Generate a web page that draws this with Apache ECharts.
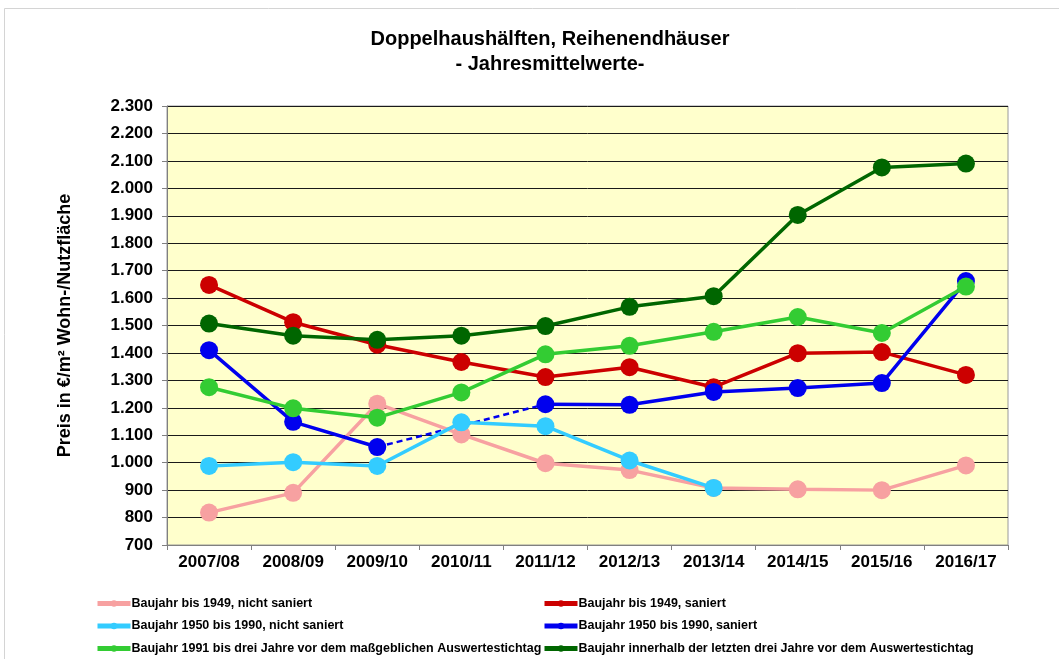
<!DOCTYPE html>
<html>
<head>
<meta charset="utf-8">
<script src="https://cdn.jsdelivr.net/npm/echarts@6/dist/echarts.min.js"></script>
<style>
  html, body { margin: 0; padding: 0; background: #fff; }
  #chart { width: 1059px; height: 659px; }
</style>
</head>
<body>
<div id="chart"></div>
<script>
// categories (Auswertejahre)
var years = ["2007/08", "2008/09", "2009/10", "2010/11", "2011/12",
             "2012/13", "2013/14", "2014/15", "2015/16", "2016/17"];

// Preis in €/m² Wohn-/Nutzfläche
var bis1949Nicht   = [818, 890, 1215, 1103, 998, 973, 908, 903, 900, 990];
var bis1949Saniert = [1648, 1512, 1430, 1367, 1312, 1348, 1275, 1399, 1403, 1320];
var b1950Nicht     = [988, 1002, 988, 1147, 1133, 1008, 908, null, null, null];
var b1950Saniert   = [1410, 1149, 1057, null, 1213, 1211, 1258, 1272, 1290, 1662];
var b1991          = [1275, 1198, 1164, 1256, 1395, 1426, 1477, 1531, 1473, 1642];
var innerhalb3     = [1507, 1463, 1448, 1463, 1498, 1568, 1607, 1903, 2076, 2090];

var names = [
  "Baujahr bis 1949, nicht saniert",
  "Baujahr bis 1949, saniert",
  "Baujahr 1950 bis 1990, nicht saniert",
  "Baujahr 1950 bis 1990, saniert",
  "Baujahr 1991 bis drei Jahre vor dem maßgeblichen Auswertestichtag",
  "Baujahr innerhalb der letzten drei Jahre vor dem Auswertestichtag"
];
var colors = ["#F7A1A1", "#CC0000", "#33CCFF", "#0000EE", "#33CC33", "#006600"];
var dataSets = [bis1949Nicht, bis1949Saniert, b1950Nicht, b1950Saniert, b1991, innerhalb3];

// dashed bridge over the missing year of the blue series
var bridge = b1950Saniert.map(function (v, i, a) {
  if (v == null) return null;
  if ((i > 0 && a[i - 1] == null) || (i < a.length - 1 && a[i + 1] == null)) return v;
  return null;
});

var chart = echarts.init(document.getElementById("chart"));
var font = "Liberation Sans, Arial, sans-serif";

var series = dataSets.map(function (d, i) {
  return {
    name: names[i],
    type: "line",
    data: d,
    symbol: "circle",
    symbolSize: 18,
    lineStyle: { width: 3.5, color: colors[i] },
    itemStyle: { color: colors[i] },
    z: 3 + i
  };
});
series.splice(3, 0, {
  name: "bridge",
  type: "line",
  data: bridge,
  connectNulls: true,
  showSymbol: false,
  symbol: "none",
  lineStyle: { width: 2.5, color: "#0000EE", type: [6, 4] },
  z: 2
});

var legendStyle = {
  orient: "vertical",
  padding: 0,
  height: 80,
  itemWidth: 33,
  itemHeight: 8,
  itemGap: 9.5,
  lineStyle: { width: 5 },
  textStyle: { fontFamily: font, fontSize: 12.5, fontWeight: "bold", color: "#000", padding: [0, 0, 0, -4] }
};

var option = {
  backgroundColor: "#fff",
  animation: false,
  title: {
    text: "Doppelhaushälften, Reihenendhäuser\n- Jahresmittelwerte-",
    left: 550,
    textAlign: "center",
    top: 27,
    padding: 0,
    textStyle: { fontFamily: font, fontSize: 20, fontWeight: "bold", color: "#000", lineHeight: 25 }
  },
  graphic: [{
    type: "rect",
    shape: { x: 4.5, y: 8.5, width: 1070, height: 670 },
    style: { fill: null, stroke: "#d4d4d4", lineWidth: 1 },
    silent: true
  }],
  legend: [
    Object.assign({ left: 95, top: 597, data: [names[0], names[2], names[4]] }, legendStyle),
    Object.assign({ left: 542, top: 597, data: [names[1], names[3], names[5]] }, legendStyle)
  ],
  grid: {
    left: 167, right: 51, top: 106, bottom: 114,
    show: true,
    backgroundColor: "#FFFFCC",
    borderColor: "#9a9a9a",
    borderWidth: 1
  },
  xAxis: {
    type: "category",
    data: years,
    boundaryGap: true,
    axisLine: { lineStyle: { color: "#808080", width: 1 } },
    axisTick: { show: true, length: 5, alignWithLabel: false, lineStyle: { color: "#808080" } },
    axisLabel: { fontFamily: font, fontSize: 17, fontWeight: "bold", color: "#000", margin: 9 }
  },
  yAxis: {
    type: "value",
    min: 700,
    max: 2300,
    interval: 100,
    name: "Preis in €/m² Wohn-/Nutzfläche",
    nameLocation: "middle",
    nameGap: 93,
    nameTextStyle: { fontFamily: font, fontSize: 18, fontWeight: "bold", color: "#000" },
    axisLine: { show: true, lineStyle: { color: "#808080", width: 1 } },
    axisTick: { show: true, length: 5, lineStyle: { color: "#808080" } },
    axisLabel: {
      fontFamily: font, fontSize: 17, fontWeight: "bold", color: "#000", margin: 14,
      formatter: function (v) {
        return v >= 1000 ? Math.floor(v / 1000) + "." + String(v % 1000).padStart(3, "0") : String(v);
      }
    },
    splitLine: { show: true, lineStyle: { color: "#1a1a1a", width: 1 } }
  },
  series: series
};

chart.setOption(option);
</script>
</body>
</html>
